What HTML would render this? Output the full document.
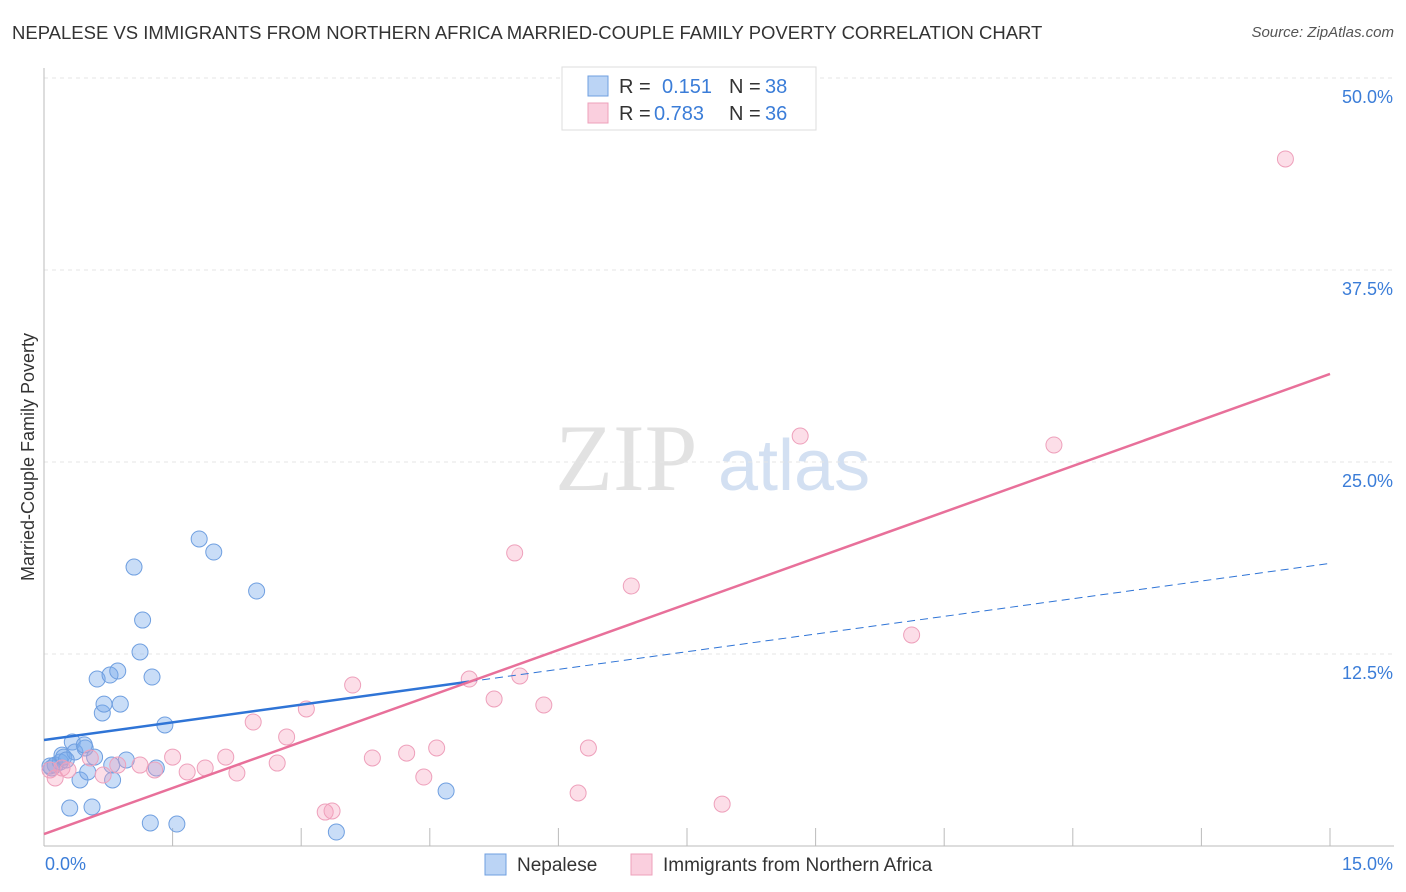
<!DOCTYPE html>
<html><head><meta charset="utf-8">
<style>
body{margin:0;background:#fff;font-family:"Liberation Sans",sans-serif;}
#wrap{position:relative;width:1406px;height:892px;overflow:hidden;}
.title{position:absolute;left:12px;top:22px;font-size:18.5px;color:#333;}
.source{position:absolute;right:12px;top:24px;font-size:15px;color:#555;font-style:italic;}
</style></head><body>
<div id="wrap">
<div class="title">NEPALESE VS IMMIGRANTS FROM NORTHERN AFRICA MARRIED-COUPLE FAMILY POVERTY CORRELATION CHART</div>
<div class="source">Source: ZipAtlas.com</div>
<svg id="svg" width="1406" height="892" style="position:absolute;left:0;top:0"></svg>
</div>
<script>
const yTicks=[12.5,25,37.5,50];
const yTickLabels=["12.5%","25.0%","37.5%","50.0%"];
const xTickLabels=["0.0%","15.0%"];
const blueX=[0.09,0.13,0.19,0.21,0.23,0.30,0.33,0.36,0.42,0.48,0.51,0.56,0.59,0.62,0.68,0.70,0.77,0.79,0.80,0.86,0.89,0.96,1.05,1.12,1.15,1.24,1.26,1.31,1.41,1.55,1.81,1.98,2.48,3.41,4.69,0.07,0.26,0.47];
const blueY=[5.08,5.27,5.47,5.92,5.79,2.47,6.77,6.12,4.30,6.38,4.82,2.54,5.79,10.87,8.66,9.24,11.13,5.27,4.30,11.39,9.24,5.60,18.16,12.63,14.71,1.50,11.00,5.08,7.88,1.43,19.99,19.14,16.60,0.91,3.58,5.21,5.60,6.58];
const pinkX=[0.07,0.13,0.21,0.28,0.54,0.69,0.86,1.12,1.29,1.50,1.67,1.88,2.12,2.25,2.44,2.72,2.83,3.06,3.28,3.36,3.60,3.83,4.23,4.43,4.58,4.96,5.25,5.49,5.55,5.83,6.23,6.35,6.85,7.91,8.82,10.12,11.78,14.48];
const pinkY=[4.95,4.43,5.08,4.95,5.73,4.62,5.27,5.27,4.95,5.79,4.82,5.08,5.79,4.75,8.07,5.40,7.10,8.92,2.21,2.28,10.48,5.73,6.05,4.49,6.38,10.87,9.57,19.08,11.07,9.18,3.45,6.38,16.93,2.73,26.69,13.74,26.11,44.73];
const blueTrend=[6.90,18.4];
const pinkTrend=[0.78,30.73];

const X0=44,X1=1330,Y0=846,Y50=78;
const sx=v=>X0+(v/15)*(X1-X0);
const sy=v=>Y0-(v/50)*(Y0-Y50);
const svg=document.getElementById('svg');
const NS='http://www.w3.org/2000/svg';
function mk(t,a){const e=document.createElementNS(NS,t);for(const k in a)e.setAttribute(k,a[k]);svg.appendChild(e);return e;}

let w=mk('text',{x:555,y:490,'font-size':95,fill:'#e2e2e2','font-family':'Liberation Serif,serif'});w.textContent='ZIP';


w=mk('text',{x:718,y:490,'font-size':72,fill:'#d3e0f2','font-family':'Liberation Sans,sans-serif'});w.textContent='atlas';



yTicks.forEach((t,i)=>{
 const g=mk('line',{x1:X0,x2:1394,y1:sy(t),y2:sy(t),stroke:'#e6e6e6','stroke-dasharray':'4,4'});
 
 
 const l=mk('text',{x:1393,y:sy(t)+25,'text-anchor':'end','font-size':18,fill:'#3b7dd8'});l.textContent=yTickLabels[i];
 
 
});
let ax=mk('line',{x1:X0,x2:X0,y1:68,y2:Y0,stroke:'#bbb'});


ax=mk('line',{x1:X0,x2:1394,y1:Y0,y2:Y0,stroke:'#bbb'});


for(let i=1;i<=10;i++){const t=mk('line',{x1:sx(i*1.5),x2:sx(i*1.5),y1:828,y2:Y0,stroke:'#bbb'});
 
 }
let xl=mk('text',{x:45,y:870,'font-size':18,fill:'#3b7dd8'});xl.textContent=xTickLabels[0];


xl=mk('text',{x:1393,y:870,'text-anchor':'end','font-size':18,fill:'#3b7dd8'});xl.textContent=xTickLabels[1];


let yt=mk('text',{x:34,y:457,'font-size':18,fill:'#333','text-anchor':'middle',transform:'rotate(-90 34 457)'});yt.textContent='Married-Couple Family Poverty';



blueX.forEach((x,i)=>{const c=mk('circle',{cx:sx(x),cy:sy(blueY[i]),r:8,fill:'rgba(120,170,235,0.4)',stroke:'#6f9fe0','stroke-width':1});
 
 });
pinkX.forEach((x,i)=>{const c=mk('circle',{cx:sx(x),cy:sy(pinkY[i]),r:8,fill:'rgba(245,160,190,0.35)',stroke:'#eea0bb','stroke-width':1});
 
 });

const bAt=x=>blueTrend[0]+(blueTrend[1]-blueTrend[0])*x/15;
let tl=mk('line',{x1:sx(0),y1:sy(bAt(0)),x2:sx(4.96),y2:sy(bAt(4.96)),stroke:'#2f74d6','stroke-width':2.5});


tl=mk('line',{x1:sx(4.96),y1:sy(bAt(4.96)),x2:sx(15),y2:sy(bAt(15)),stroke:'#2f74d6','stroke-width':1,'stroke-dasharray':'8,5'});


tl=mk('line',{x1:sx(0),y1:sy(pinkTrend[0]),x2:sx(15),y2:sy(pinkTrend[1]),stroke:'#e8709a','stroke-width':2.5});



let lb=mk('rect',{x:562,y:67,width:254,height:63,fill:'#fff',stroke:'#ddd'});


[[76,'rgba(120,170,235,0.5)','#6f9fe0','0.151','38',662],[103,'rgba(245,160,190,0.5)','#eea0bb','0.783','36',654]].forEach(r=>{
 const s=mk('rect',{x:588,y:r[0],width:20,height:20,fill:r[1],stroke:r[2]});
 
 
 const parts=[[619,'R =','#333'],[r[5],r[3],'#3b7dd8'],[729,'N =','#333'],[765,r[4],'#3b7dd8']];
 parts.forEach(p=>{
  const t=mk('text',{x:p[0],y:r[0]+17,'font-size':20,fill:p[2]});t.textContent=p[1];
  
  
 });
});
[[485,'rgba(120,170,235,0.5)','#6f9fe0','Nepalese'],[631,'rgba(245,160,190,0.5)','#eea0bb','Immigrants from Northern Africa']].forEach(r=>{
 const s=mk('rect',{x:r[0],y:854,width:21,height:21,fill:r[1],stroke:r[2]});
 
 
 const t=mk('text',{x:r[0]+32,y:871,'font-size':19,fill:'#333'});t.textContent=r[3];
 
 
});
</script>
</body></html>
